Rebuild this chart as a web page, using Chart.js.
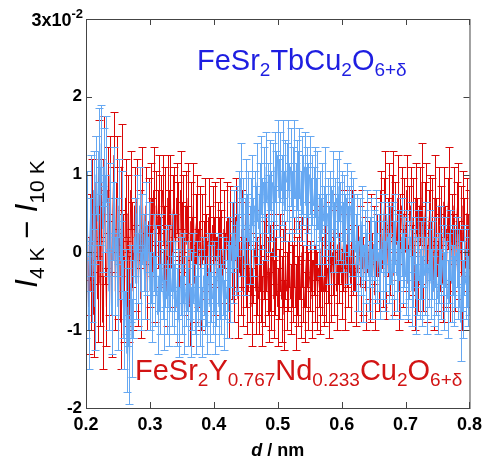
<!DOCTYPE html>
<html>
<head>
<meta charset="utf-8">
<script src="https://cdn.jsdelivr.net/npm/chart.js@4.4.1/dist/chart.umd.min.js"></script>
<style>
  html, body { margin: 0; padding: 0; background: #fff; }
  #wrap { width: 488px; height: 459px; }
</style>
</head>
<body>
<div id="wrap"><canvas id="myChart" width="488" height="459"></canvas></div>
<script>
// d grid (nm), shared by both samples
const dValues = [
  0.200, 0.202, 0.204, 0.206, 0.208, 0.210, 0.212, 0.214, 0.216, 0.218,
  0.220, 0.222, 0.224, 0.226, 0.228, 0.230, 0.232, 0.234, 0.236, 0.238,
  0.240, 0.242, 0.244, 0.246, 0.248, 0.250, 0.252, 0.254, 0.256, 0.258,
  0.260, 0.262, 0.264, 0.266, 0.268, 0.270, 0.272, 0.274, 0.276, 0.278,
  0.280, 0.282, 0.284, 0.286, 0.288, 0.290, 0.292, 0.294, 0.296, 0.298,
  0.300, 0.302, 0.304, 0.306, 0.308, 0.310, 0.312, 0.314, 0.316, 0.318,
  0.320, 0.322, 0.324, 0.326, 0.328, 0.330, 0.332, 0.334, 0.336, 0.338,
  0.340, 0.342, 0.344, 0.346, 0.348, 0.350, 0.352, 0.354, 0.356, 0.358,
  0.360, 0.362, 0.364, 0.366, 0.368, 0.370, 0.372, 0.374, 0.376, 0.378,
  0.380, 0.382, 0.384, 0.386, 0.388, 0.390, 0.392, 0.394, 0.396, 0.398,
  0.400, 0.402, 0.404, 0.406, 0.408, 0.410, 0.412, 0.414, 0.416, 0.418,
  0.420, 0.422, 0.424, 0.426, 0.428, 0.430, 0.432, 0.434, 0.436, 0.438,
  0.440, 0.442, 0.444, 0.446, 0.448, 0.450, 0.452, 0.454, 0.456, 0.458,
  0.460, 0.462, 0.464, 0.466, 0.468, 0.470, 0.472, 0.474, 0.476, 0.478,
  0.480, 0.482, 0.484, 0.486, 0.488, 0.490, 0.492, 0.494, 0.496, 0.498,
  0.500, 0.502, 0.504, 0.506, 0.508, 0.510, 0.512, 0.514, 0.516, 0.518,
  0.520, 0.522, 0.524, 0.526, 0.528, 0.530, 0.532, 0.534, 0.536, 0.538,
  0.540, 0.542, 0.544, 0.546, 0.548, 0.550, 0.552, 0.554, 0.556, 0.558,
  0.560, 0.562, 0.564, 0.566, 0.568, 0.570, 0.572, 0.574, 0.576, 0.578,
  0.580, 0.582, 0.584, 0.586, 0.588, 0.590, 0.592, 0.594, 0.596, 0.598,
  0.600, 0.602, 0.604, 0.606, 0.608, 0.610, 0.612, 0.614, 0.616, 0.618,
  0.620, 0.622, 0.624, 0.626, 0.628, 0.630, 0.632, 0.634, 0.636, 0.638,
  0.640, 0.642, 0.644, 0.646, 0.648, 0.650, 0.652, 0.654, 0.656, 0.658,
  0.660, 0.662, 0.664, 0.666, 0.668, 0.670, 0.672, 0.674, 0.676, 0.678,
  0.680, 0.682, 0.684, 0.686, 0.688, 0.690, 0.692, 0.694, 0.696, 0.698,
  0.700, 0.702, 0.704, 0.706, 0.708, 0.710, 0.712, 0.714, 0.716, 0.718,
  0.720, 0.722, 0.724, 0.726, 0.728, 0.730, 0.732, 0.734, 0.736, 0.738,
  0.740, 0.742, 0.744, 0.746, 0.748, 0.750, 0.752, 0.754, 0.756, 0.758,
  0.760, 0.762, 0.764, 0.766, 0.768, 0.770, 0.772, 0.774, 0.776, 0.778,
  0.780, 0.782, 0.784, 0.786, 0.788, 0.790, 0.792, 0.794, 0.796, 0.798,
  0.800
];

// I(4K) - I(10K), units of 1e-2 : FeSr2Y0.767Nd0.233Cu2O6+d (red)
const yNdValues = [
  -0.3, 0.5, -0.7, 0.2, -0.5, 0.6, -0.8, 0.1, 0.9, -0.6,
  1.1, -0.4, 0.7, -0.9, 1.2, 0.2, -0.7, 0.8, -0.2, 1.0,
  -0.8, 0.5, 1.25, -0.5, 0.9, -0.3, 0.6, -0.9, 1.1, 0.0,
  -0.6, 0.7, -0.4, 0.5, -0.6, 0.8, 0.1, -0.5, 0.6, -0.2,
  0.7, -0.4, 0.3, -0.6, 0.8, 0.0, -0.3, 0.6, -0.5, 0.4,
  -0.2, 0.7, 0.2, 0.8, -0.4, 0.6, 0.3, 0.75, 0.0, 0.5,
  0.8, 0.1, 0.6, -0.5, 0.7, 0.3, 0.8, -0.2, 0.5, 0.65,
  0.0, 0.7, 0.4, -0.6, 0.8, 0.2, 0.5, -0.3, 0.6, 0.1,
  0.7, -0.7, 0.4, 0.0, 0.6, -0.4, 0.3, 0.5, -0.2, 0.4,
  -0.5, 0.3, -0.1, 0.4, 0.0, -0.3, 0.45, 0.1, -0.2, 0.35,
  0.0, 0.4, -0.3, 0.2, -0.1, 0.45, 0.1, -0.3, 0.3, -0.2,
  0.4, 0.0, -0.6, 0.3, -0.1, 0.2, -0.4, 0.45, 0.0, -0.6,
  0.2, -0.3, 0.3, -0.5, 0.1, -0.2, -0.6, 0.0, -0.4, -0.1,
  -0.7, -0.2, 0.05, -0.5, -0.3, -0.6, 0.0, -0.4, -0.75, -0.1,
  -0.5, 0.0, -0.3, -0.7, -0.2, -0.5, 0.05, -0.6, -0.3, -0.1,
  -0.7, -0.4, 0.0, -0.6, -0.2, -0.8, -0.1, -0.5, -0.3, 0.05,
  -0.6, -0.2, -0.4, 0.0, -0.7, -0.3, -0.5, -0.1, -0.6, 0.0,
  -0.4, -0.7, -0.2, 0.1, -0.5, -0.3, 0.0, -0.6, -0.1, -0.4,
  0.1, -0.5, -0.2, -0.6, 0.05, -0.3, -0.5, 0.0, -0.4, -0.2,
  -0.6, 0.2, -0.4, 0.0, -0.3, 0.3, -0.5, 0.1, -0.2, 0.25,
  -0.4, 0.0, 0.3, -0.55, 0.1, -0.2, 0.2, -0.4, 0.3, -0.1,
  0.0, -0.5, 0.25, -0.2, 0.1, -0.45, 0.3, -0.3, 0.0, -0.5,
  0.2, -0.1, -0.4, 0.3, -0.3, 0.1, -0.55, 0.2, 0.0, -0.3,
  0.3, 0.6, -0.2, 0.4, 0.8, -0.4, 0.2, 0.65, -0.1, 0.5,
  0.85, -0.3, 0.4, 0.1, 0.7, -0.5, 0.3, 0.6, -0.2, 0.5,
  0.0, 0.8, -0.4, 0.3, 0.6, -0.1, 0.45, -0.5, 0.7, 0.2,
  -0.3, 0.6, 0.1, 0.9, -0.2, 0.4, 0.7, -0.4, 0.3, 0.55,
  -0.1, 0.5, -0.5, 0.7, 0.2, -0.3, 0.6, 0.0, 0.4, -0.4,
  0.65, 0.1, -0.2, 0.5, 0.8, -0.4, 0.3, 0.0, 0.6, -0.3,
  0.4, 0.7, -0.1, 0.3, -0.5, 0.6, 0.2, -0.2, 0.5, 0.0,
  0.3
];
const yNdErrors = [
  0.5, 0.55, 0.6, 0.55, 0.5, 0.6, 0.55, 0.5, 0.6, 0.55,
  0.6, 0.55, 0.5, 0.6, 0.55, 0.6, 0.5, 0.55, 0.6, 0.5,
  0.55, 0.6, 0.55, 0.5, 0.6, 0.55, 0.5, 0.6, 0.55, 0.5,
  0.55, 0.5, 0.55, 0.5, 0.55, 0.5, 0.55, 0.5, 0.5, 0.55,
  0.5, 0.55, 0.5, 0.5, 0.55, 0.5, 0.55, 0.5, 0.5, 0.55,
  0.5, 0.45, 0.5, 0.55, 0.5, 0.45, 0.5, 0.5, 0.45, 0.5,
  0.45, 0.5, 0.5, 0.45, 0.55, 0.5, 0.45, 0.5, 0.5, 0.45,
  0.5, 0.45, 0.5, 0.55, 0.5, 0.45, 0.5, 0.5, 0.45, 0.5,
  0.45, 0.5, 0.5, 0.45, 0.55, 0.5, 0.45, 0.5, 0.5, 0.45,
  0.5, 0.45, 0.5, 0.55, 0.5, 0.45, 0.5, 0.5, 0.45, 0.5,
  0.45, 0.5, 0.5, 0.45, 0.55, 0.5, 0.45, 0.5, 0.5, 0.45,
  0.5, 0.45, 0.5, 0.55, 0.5, 0.45, 0.5, 0.5, 0.45, 0.5,
  0.45, 0.5, 0.5, 0.45, 0.55, 0.5, 0.45, 0.5, 0.5, 0.45,
  0.5, 0.45, 0.5, 0.55, 0.5, 0.45, 0.5, 0.5, 0.45, 0.5,
  0.45, 0.5, 0.5, 0.45, 0.55, 0.5, 0.45, 0.5, 0.5, 0.45,
  0.5, 0.45, 0.5, 0.55, 0.5, 0.45, 0.5, 0.5, 0.45, 0.5,
  0.45, 0.5, 0.5, 0.45, 0.55, 0.5, 0.45, 0.5, 0.5, 0.45,
  0.5, 0.45, 0.5, 0.55, 0.5, 0.45, 0.5, 0.5, 0.45, 0.5,
  0.45, 0.5, 0.5, 0.45, 0.55, 0.5, 0.45, 0.5, 0.5, 0.45,
  0.5, 0.45, 0.5, 0.55, 0.5, 0.45, 0.5, 0.5, 0.45, 0.5,
  0.45, 0.5, 0.5, 0.45, 0.55, 0.5, 0.45, 0.5, 0.5, 0.45,
  0.5, 0.45, 0.5, 0.55, 0.5, 0.45, 0.5, 0.5, 0.45, 0.5,
  0.45, 0.5, 0.5, 0.45, 0.55, 0.5, 0.45, 0.5, 0.5, 0.45,
  0.5, 0.45, 0.5, 0.55, 0.5, 0.45, 0.5, 0.5, 0.45, 0.5,
  0.45, 0.5, 0.5, 0.45, 0.55, 0.5, 0.45, 0.5, 0.5, 0.45,
  0.5, 0.45, 0.5, 0.55, 0.5, 0.45, 0.5, 0.5, 0.45, 0.5,
  0.45, 0.5, 0.5, 0.5, 0.55, 0.5, 0.45, 0.5, 0.5, 0.45,
  0.5, 0.45, 0.5, 0.55, 0.5, 0.45, 0.5, 0.5, 0.45, 0.5,
  0.45, 0.5, 0.5, 0.45, 0.55, 0.5, 0.45, 0.5, 0.5, 0.45,
  0.5, 0.45, 0.5, 0.55, 0.5, 0.45, 0.5, 0.5, 0.45, 0.5,
  0.5
];

// FeSr2TbCu2O6+d (blue)
const tbValues = [
  -0.6, 0.5, -1.0, 0.2, 0.7, -0.4, 0.8, -0.7, 1.0, 0.4,
  1.3, 0.6, 1.4, 0.3, 1.1, 0.5, 1.2, 0.2, -0.5, 0.6,
  -0.8, 0.4, 0.8, -0.3, 0.2, -0.7, 0.7, -0.1, 0.5, -0.6,
  -1.0, -0.5, -1.3, -0.7, -1.4, -0.4, -1.1, -0.6, 0.2, -0.4,
  0.5, -0.2, 0.6, -0.5, 0.3, 0.0, -0.4, 0.4, -0.1, 0.2,
  -0.5, -0.2, -0.7, 0.0, -0.5, -0.1, -0.8, -0.3, -0.6, 0.0,
  -0.4, -0.8, -0.2, -0.6, -0.1, -0.7, -0.3, -0.5, 0.0, -0.6,
  -0.3, -0.7, -0.4, -0.9, -0.3, -0.6, -0.2, -0.8, -0.5, -0.3,
  -0.7, -0.4, -0.9, -0.5, -0.2, -0.6, -0.8, -0.3, -0.5, -0.7,
  -0.4, -0.9, -0.3, -0.6, -0.5, -0.8, -0.2, -0.7, -0.4, -0.6,
  -0.3, -0.8, -0.5, -0.2, -0.7, -0.4, -0.6, -0.3, -0.8, -0.4,
  -0.6, -0.3, 0.0, -0.4, 0.2, -0.2, 0.3, -0.1, 0.4, 0.0,
  0.6, 0.95, 0.2, 0.5, -0.1, 0.7, 0.3, 0.6, 0.1, 0.5,
  0.8, 0.2, 0.6, 0.4, 0.9, 0.3, 0.7, 1.0, 0.5, 0.9,
  0.4, 1.1, 0.7, 0.5, 1.0, 0.6, 0.9, 0.4, 1.1, 0.8,
  1.25, 0.7, 1.1, 0.8, 1.2, 0.6, 1.0, 0.9, 1.25, 0.7,
  1.1, 0.6, 0.9, 1.2, 0.7, 1.0, 0.8, 1.15, 0.6, 1.0,
  0.8, 1.1, 0.6, 0.9, 0.7, 1.0, 0.5, 0.8, 0.6, 0.9,
  0.5, 0.8, 0.3, 0.6, 0.2, 0.7, 0.4, 0.85, 0.3, 0.5,
  0.1, 0.6, 0.4, 0.8, 0.2, 0.5, 0.7, 0.3, 0.85, 0.4,
  0.6, 0.2, 0.5, 0.3, 0.7, 0.1, 0.4, 0.6, 0.2, 0.5,
  0.3, 0.0, 0.3, -0.3, 0.2, -0.1, 0.4, -0.4, 0.1, -0.2,
  0.3, -0.3, 0.0, 0.2, -0.4, 0.1, -0.1, 0.35, -0.2, 0.0,
  -0.4, 0.2, -0.1, 0.3, -0.3, 0.0, 0.2, -0.2, 0.1, -0.4,
  0.2, -0.1, 0.3, -0.3, 0.0, 0.1, -0.4, 0.2, -0.2, 0.0,
  -0.3, 0.1, -0.4, -0.1, 0.2, -0.5, -0.2, 0.0, -0.6, -0.3,
  0.1, -0.4, -0.1, -0.5, 0.0, -0.3, 0.2, -0.6, -0.2, 0.1,
  -0.4, -0.1, -0.5, 0.0, -0.3, -0.6, -0.2, 0.1, -0.4, -0.1,
  -0.5, 0.0, -0.3, -0.6, -0.2, 0.1, -0.4, -0.1, -0.5, -0.2,
  0.0, -0.4, -0.2, -0.9, -0.3, -0.6, -0.1, -0.4, -0.2, -0.5,
  -0.3
];
const tbErrors = [
  0.5, 0.55, 0.5, 0.5, 0.55, 0.5, 0.5, 0.55, 0.5, 0.5,
  0.55, 0.5, 0.5, 0.55, 0.5, 0.5, 0.55, 0.5, 0.5, 0.55,
  0.5, 0.5, 0.55, 0.5, 0.5, 0.55, 0.5, 0.5, 0.55, 0.5,
  0.5, 0.55, 0.5, 0.5, 0.55, 0.5, 0.5, 0.5, 0.5, 0.45,
  0.5, 0.45, 0.5, 0.5, 0.45, 0.5, 0.45, 0.5, 0.45, 0.45,
  0.5, 0.45, 0.45, 0.5, 0.45, 0.45, 0.5, 0.45, 0.45, 0.5,
  0.45, 0.45, 0.5, 0.45, 0.45, 0.5, 0.45, 0.45, 0.5, 0.45,
  0.45, 0.5, 0.45, 0.45, 0.5, 0.45, 0.45, 0.5, 0.45, 0.45,
  0.5, 0.45, 0.45, 0.5, 0.45, 0.45, 0.5, 0.45, 0.45, 0.5,
  0.45, 0.45, 0.5, 0.45, 0.45, 0.5, 0.45, 0.45, 0.5, 0.45,
  0.45, 0.5, 0.45, 0.45, 0.5, 0.45, 0.45, 0.5, 0.45, 0.45,
  0.5, 0.45, 0.45, 0.5, 0.45, 0.45, 0.5, 0.45, 0.45, 0.5,
  0.45, 0.45, 0.5, 0.45, 0.45, 0.5, 0.45, 0.45, 0.5, 0.45,
  0.45, 0.5, 0.45, 0.45, 0.5, 0.45, 0.45, 0.5, 0.45, 0.45,
  0.5, 0.45, 0.45, 0.5, 0.45, 0.45, 0.5, 0.45, 0.45, 0.5,
  0.45, 0.5, 0.45, 0.45, 0.5, 0.45, 0.45, 0.5, 0.45, 0.45,
  0.5, 0.45, 0.45, 0.5, 0.45, 0.45, 0.5, 0.45, 0.45, 0.5,
  0.45, 0.45, 0.5, 0.45, 0.45, 0.5, 0.45, 0.45, 0.5, 0.45,
  0.45, 0.5, 0.45, 0.45, 0.5, 0.45, 0.45, 0.5, 0.45, 0.45,
  0.5, 0.45, 0.45, 0.5, 0.45, 0.45, 0.5, 0.45, 0.45, 0.5,
  0.45, 0.45, 0.5, 0.45, 0.45, 0.5, 0.45, 0.45, 0.5, 0.45,
  0.45, 0.5, 0.45, 0.45, 0.5, 0.45, 0.45, 0.5, 0.45, 0.45,
  0.5, 0.45, 0.45, 0.5, 0.45, 0.45, 0.5, 0.45, 0.45, 0.5,
  0.45, 0.45, 0.5, 0.45, 0.45, 0.5, 0.45, 0.45, 0.5, 0.45,
  0.45, 0.5, 0.45, 0.45, 0.5, 0.45, 0.45, 0.5, 0.45, 0.45,
  0.5, 0.45, 0.45, 0.5, 0.45, 0.45, 0.5, 0.45, 0.45, 0.5,
  0.45, 0.45, 0.5, 0.45, 0.45, 0.5, 0.45, 0.45, 0.5, 0.45,
  0.45, 0.5, 0.45, 0.45, 0.5, 0.45, 0.45, 0.5, 0.45, 0.45,
  0.5, 0.45, 0.45, 0.5, 0.45, 0.45, 0.5, 0.45, 0.45, 0.5,
  0.45, 0.45, 0.5, 0.5, 0.45, 0.5, 0.45, 0.45, 0.5, 0.45,
  0.5
];

const xTicks = [0.2, 0.3, 0.4, 0.5, 0.6, 0.7, 0.8];
const yTicks = [-2, -1, 0, 1, 2, 3];

const RED = "rgb(218, 8, 8)";
const BLUE = "rgb(102, 168, 242)";
const FONT = "'Liberation Sans', Arial, Helvetica, sans-serif";

function toPoints(xs, ys) {
  return xs.map((x, i) => ({ x: x, y: ys[i] }));
}

// draws a run of [text, "main"|"sub", italic?] pieces starting at x
function drawRich(ctx, parts, x, y, size, subSize, color) {
  ctx.fillStyle = color;
  ctx.textBaseline = "alphabetic";
  ctx.textAlign = "left";
  let cx = x;
  parts.forEach(([text, kind, italic]) => {
    const s = kind === "main" ? size : subSize;
    ctx.font = (italic ? "italic " : "") + s + "px " + FONT;
    const dy = kind === "sub" ? size * 0.22 : 0;
    ctx.fillText(text, cx, y + dy);
    cx += ctx.measureText(text).width;
  });
  return cx - x;
}

const errorBars = {
  id: "errorBars",
  afterDatasetDraw(chart, args) {
    const ds = chart.data.datasets[args.index];
    if (!ds.errors) return;
    const xs = chart.scales.x, ys = chart.scales.y;
    const area = chart.chartArea;
    const ctx = chart.ctx;
    ctx.save();
    ctx.beginPath();
    ctx.rect(area.left, area.top, area.right - area.left, area.bottom - area.top);
    ctx.clip();
    ctx.strokeStyle = ds.borderColor;
    ctx.lineWidth = 1;
    ds.data.forEach((p, i) => {
      const px = Math.round(xs.getPixelForValue(p.x)) + 0.5;
      const top = Math.round(ys.getPixelForValue(p.y + ds.errors[i])) + 0.5;
      const bot = Math.round(ys.getPixelForValue(p.y - ds.errors[i])) + 0.5;
      ctx.beginPath();
      ctx.moveTo(px, top);
      ctx.lineTo(px, bot);
      ctx.moveTo(px - 4, top);
      ctx.lineTo(px + 4, top);
      ctx.moveTo(px - 4, bot);
      ctx.lineTo(px + 4, bot);
      ctx.stroke();
    });
    ctx.restore();
  }
};

const frameAndLabels = {
  id: "frameAndLabels",
  afterDraw(chart) {
    const { ctx, chartArea: a } = chart;
    const xs = chart.scales.x, ys = chart.scales.y;
    ctx.save();
    ctx.strokeStyle = "#444";
    ctx.lineWidth = 1;
    ctx.strokeRect(a.left + 0.5, a.top + 0.5, a.right - a.left, a.bottom - a.top);

    // inward ticks on all four sides
    ctx.beginPath();
    yTicks.forEach(v => {
      const py = Math.round(ys.getPixelForValue(v)) + 0.5;
      ctx.moveTo(a.left, py); ctx.lineTo(a.left + 6, py);
      ctx.moveTo(a.right, py); ctx.lineTo(a.right - 6, py);
    });
    xTicks.forEach(v => {
      const px = Math.round(xs.getPixelForValue(v)) + 0.5;
      ctx.moveTo(px, a.top); ctx.lineTo(px, a.top + 6);
      ctx.moveTo(px, a.bottom); ctx.lineTo(px, a.bottom - 6);
    });
    ctx.stroke();

    // top y label with exponent
    ctx.font = "bold 18px " + FONT;
    const w1 = ctx.measureText("3x10").width;
    ctx.font = "bold 13px " + FONT;
    const w2 = ctx.measureText("-2").width;
    const ty = ys.getPixelForValue(3);
    const right = a.left - 3;
    ctx.fillStyle = "#000";
    ctx.textAlign = "left";
    ctx.textBaseline = "alphabetic";
    ctx.font = "bold 18px " + FONT;
    ctx.fillText("3x10", right - w1 - w2, ty + 7);
    ctx.font = "bold 13px " + FONT;
    ctx.fillText("-2", right - w2, ty - 1);

    // y axis title: I_4K - I_10K
    ctx.save();
    ctx.translate(37, 224);
    ctx.rotate(-Math.PI / 2);
    const yParts = [["I", "main", true], ["4 K", "sub"], [" \u2212 ", "main"], ["I", "main", true], ["10 K", "sub"]];
    let tw = 0;
    yParts.forEach(([t, k, it]) => {
      ctx.font = (it ? "italic " : "") + (k === "main" ? 31 : 21) + "px " + FONT;
      tw += ctx.measureText(t).width;
    });
    drawRich(ctx, yParts, -tw / 2, 0, 31, 21, "#000");
    ctx.restore();

    // x axis title: d / nm
    ctx.font = "italic bold 18px " + FONT;
    const wd = ctx.measureText("d").width;
    ctx.font = "bold 18px " + FONT;
    const wn = ctx.measureText(" / nm").width;
    const cx = (a.left + a.right) / 2 - (wd + wn) / 2;
    ctx.fillStyle = "#000";
    ctx.font = "italic bold 18px " + FONT;
    ctx.fillText("d", cx, 456);
    ctx.font = "bold 18px " + FONT;
    ctx.fillText(" / nm", cx + wd, 456);

    // sample labels
    drawRich(ctx, [["FeSr", "main"], ["2", "sub"], ["TbCu", "main"], ["2", "sub"], ["O", "main"], ["6+\u03b4", "sub"]],
      197, 70, 29, 19, "rgb(30, 30, 225)");
    drawRich(ctx, [["FeSr", "main"], ["2", "sub"], ["Y", "main"], ["0.767", "sub"], ["Nd", "main"], ["0.233", "sub"],
      ["Cu", "main"], ["2", "sub"], ["O", "main"], ["6+\u03b4", "sub"]],
      135, 380, 29, 19, "rgb(210, 20, 20)");
    ctx.restore();
  }
};

new Chart(document.getElementById("myChart").getContext("2d"), {
  type: "line",
  data: {
    datasets: [
      {
        label: "FeSr2TbCu2O6+d",
        data: toPoints(dValues, tbValues),
        errors: tbErrors,
        borderColor: BLUE,
        borderWidth: 1,
        pointRadius: 0,
        fill: false,
        order: 0
      },
      {
        label: "FeSr2Y0.767Nd0.233Cu2O6+d",
        data: toPoints(dValues, yNdValues),
        errors: yNdErrors,
        borderColor: RED,
        borderWidth: 1,
        pointRadius: 0,
        fill: false,
        order: 1
      }
    ]
  },
  options: {
    responsive: false,
    animation: false,
    layout: { padding: { top: 19, right: 12, left: 0, bottom: 0 } },
    scales: {
      x: {
        type: "linear",
        min: 0.2,
        max: 0.8,
        afterFit(scale) { scale.height = 51; },
        afterBuildTicks(scale) { scale.ticks = xTicks.map(v => ({ value: v })); },
        grid: { display: false, drawTicks: false },
        border: { display: false },
        ticks: {
          color: "#000",
          padding: 6,
          maxRotation: 0,
          font: { family: FONT, size: 18, weight: "bold" },
          callback: v => v.toFixed(1)
        }
      },
      y: {
        min: -2,
        max: 3,
        afterFit(scale) { scale.width = 86; },
        afterBuildTicks(scale) { scale.ticks = yTicks.map(v => ({ value: v })); },
        grid: { display: false, drawTicks: false },
        border: { display: false },
        ticks: {
          color: "#000",
          padding: 4,
          font: { family: FONT, size: 17, weight: "bold" },
          callback: v => (v === 3 ? "" : String(v))
        }
      }
    },
    plugins: {
      legend: { display: false },
      tooltip: { enabled: false }
    }
  },
  plugins: [errorBars, frameAndLabels]
});
</script>
</body>
</html>
